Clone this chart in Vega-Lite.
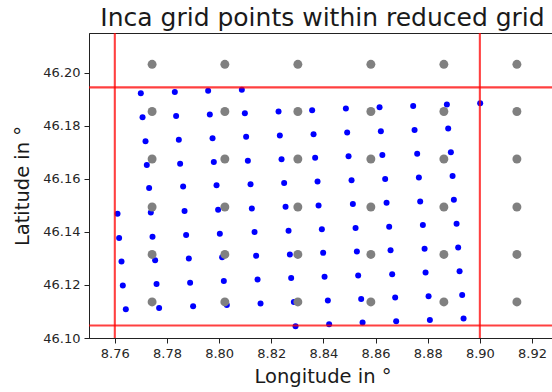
{
  "$schema": "https://vega.github.io/schema/vega-lite/v6.json",
  "autosize": {"type": "none"},
  "padding": {"left": 89, "top": 33, "right": 0, "bottom": 54},
  "width": 467,
  "height": 305,
  "background": "white",
  "config": {
    "view": {"stroke": "#222", "strokeWidth": 1},
    "font": "DejaVu Sans",
    "axis": {
      "grid": false,
      "domainColor": "#222",
      "domainWidth": 1,
      "tickColor": "#222",
      "tickSize": 5,
      "tickWidth": 1,
      "labelFont": "DejaVu Sans",
      "labelFontSize": 13,
      "labelColor": "#262626",
      "titleFont": "DejaVu Sans",
      "titleFontSize": 19.5,
      "titleFontWeight": "normal",
      "titleColor": "#1a1a1a"
    }
  },
  "title": {
    "text": "Inca grid points within reduced grid",
    "font": "DejaVu Sans",
    "fontSize": 25,
    "fontWeight": "normal",
    "color": "#1a1a1a",
    "anchor": "middle",
    "baseline": "bottom",
    "offset": 1,
    "dy": 25
  },
  "datasets": {
    "inca": [
      {"lon": 8.76997, "lat": 46.19224}, {"lon": 8.78301, "lat": 46.19272}, {"lon": 8.79579, "lat": 46.19325}, {"lon": 8.80871, "lat": 46.19362},
      {"lon": 8.77063, "lat": 46.18323}, {"lon": 8.78351, "lat": 46.18372}, {"lon": 8.79644, "lat": 46.18425}, {"lon": 8.80987, "lat": 46.18473}, {"lon": 8.82279, "lat": 46.18537}, {"lon": 8.83568, "lat": 46.18586}, {"lon": 8.84861, "lat": 46.1865}, {"lon": 8.86153, "lat": 46.18698}, {"lon": 8.87442, "lat": 46.18747}, {"lon": 8.88735, "lat": 46.188}, {"lon": 8.90012, "lat": 46.18848},
      {"lon": 8.77178, "lat": 46.17423}, {"lon": 8.78455, "lat": 46.17472}, {"lon": 8.79748, "lat": 46.17536}, {"lon": 8.81036, "lat": 46.17584}, {"lon": 8.82329, "lat": 46.17637}, {"lon": 8.83622, "lat": 46.17686}, {"lon": 8.84911, "lat": 46.17749}, {"lon": 8.86203, "lat": 46.17798}, {"lon": 8.87496, "lat": 46.17847}, {"lon": 8.88785, "lat": 46.179},
      {"lon": 8.77227, "lat": 46.16523}, {"lon": 8.78505, "lat": 46.16572}, {"lon": 8.79797, "lat": 46.16635}, {"lon": 8.81102, "lat": 46.16684}, {"lon": 8.82394, "lat": 46.16737}, {"lon": 8.83683, "lat": 46.16797}, {"lon": 8.84964, "lat": 46.16849}, {"lon": 8.86261, "lat": 46.16898}, {"lon": 8.87596, "lat": 46.16947}, {"lon": 8.88888, "lat": 46.16999},
      {"lon": 8.77316, "lat": 46.1566}, {"lon": 8.7862, "lat": 46.15709}, {"lon": 8.79901, "lat": 46.15761}, {"lon": 8.81205, "lat": 46.15799}, {"lon": 8.82494, "lat": 46.15848}, {"lon": 8.83775, "lat": 46.15897}, {"lon": 8.85079, "lat": 46.15949}, {"lon": 8.86368, "lat": 46.15998}, {"lon": 8.87661, "lat": 46.16047}, {"lon": 8.88954, "lat": 46.1611},
      {"lon": 8.76104, "lat": 46.14685}, {"lon": 8.77381, "lat": 46.14734}, {"lon": 8.78674, "lat": 46.14786}, {"lon": 8.79962, "lat": 46.14835}, {"lon": 8.81255, "lat": 46.14884}, {"lon": 8.82548, "lat": 46.14948}, {"lon": 8.83814, "lat": 46.14996}, {"lon": 8.85129, "lat": 46.15049}, {"lon": 8.86422, "lat": 46.15098}, {"lon": 8.87711, "lat": 46.15146}, {"lon": 8.89003, "lat": 46.1521},
      {"lon": 8.76165, "lat": 46.13774}, {"lon": 8.77446, "lat": 46.13822}, {"lon": 8.78735, "lat": 46.13886}, {"lon": 8.80028, "lat": 46.13935}, {"lon": 8.81359, "lat": 46.13999}, {"lon": 8.82663, "lat": 46.14047}, {"lon": 8.8394, "lat": 46.14096}, {"lon": 8.85233, "lat": 46.14149}, {"lon": 8.86522, "lat": 46.14197}, {"lon": 8.87814, "lat": 46.14261}, {"lon": 8.89107, "lat": 46.1431},
      {"lon": 8.76257, "lat": 46.12885}, {"lon": 8.77546, "lat": 46.12933}, {"lon": 8.78839, "lat": 46.12997}, {"lon": 8.80116, "lat": 46.13046}, {"lon": 8.8142, "lat": 46.13098}, {"lon": 8.82713, "lat": 46.13147}, {"lon": 8.8399, "lat": 46.13211}, {"lon": 8.85283, "lat": 46.1326}, {"lon": 8.86575, "lat": 46.13308}, {"lon": 8.8788, "lat": 46.13361}, {"lon": 8.89168, "lat": 46.1341},
      {"lon": 8.76307, "lat": 46.11984}, {"lon": 8.776, "lat": 46.12033}, {"lon": 8.78888, "lat": 46.12086}, {"lon": 8.80181, "lat": 46.12146}, {"lon": 8.81474, "lat": 46.12209}, {"lon": 8.82763, "lat": 46.12258}, {"lon": 8.84044, "lat": 46.12311}, {"lon": 8.85333, "lat": 46.12359}, {"lon": 8.86637, "lat": 46.12408}, {"lon": 8.87918, "lat": 46.12472}, {"lon": 8.89222, "lat": 46.12521},
      {"lon": 8.76422, "lat": 46.11084}, {"lon": 8.77699, "lat": 46.11133}, {"lon": 8.79003, "lat": 46.11197}, {"lon": 8.80296, "lat": 46.11245}, {"lon": 8.81589, "lat": 46.11298}, {"lon": 8.82866, "lat": 46.11358}, {"lon": 8.8417, "lat": 46.1141}, {"lon": 8.85448, "lat": 46.1147}, {"lon": 8.86752, "lat": 46.11523}, {"lon": 8.88033, "lat": 46.11572}, {"lon": 8.89322, "lat": 46.1162},
      {"lon": 8.82931, "lat": 46.10446}, {"lon": 8.8422, "lat": 46.10522}, {"lon": 8.85501, "lat": 46.10585}, {"lon": 8.8679, "lat": 46.10634}, {"lon": 8.88083, "lat": 46.10683}, {"lon": 8.89375, "lat": 46.10735}
    ],
    "reduced": [
      {"lon": 8.7743, "lat": 46.2032}, {"lon": 8.8022, "lat": 46.2032}, {"lon": 8.8302, "lat": 46.2032}, {"lon": 8.8582, "lat": 46.2032}, {"lon": 8.8862, "lat": 46.2032}, {"lon": 8.9142, "lat": 46.2032},
      {"lon": 8.7743, "lat": 46.1854}, {"lon": 8.8022, "lat": 46.1854}, {"lon": 8.8302, "lat": 46.1854}, {"lon": 8.8582, "lat": 46.1854}, {"lon": 8.8862, "lat": 46.1854}, {"lon": 8.9142, "lat": 46.1854},
      {"lon": 8.7743, "lat": 46.1675}, {"lon": 8.8022, "lat": 46.1675}, {"lon": 8.8302, "lat": 46.1675}, {"lon": 8.8582, "lat": 46.1675}, {"lon": 8.8862, "lat": 46.1675}, {"lon": 8.9142, "lat": 46.1675},
      {"lon": 8.7743, "lat": 46.1494}, {"lon": 8.8022, "lat": 46.1494}, {"lon": 8.8302, "lat": 46.1494}, {"lon": 8.8582, "lat": 46.1494}, {"lon": 8.8862, "lat": 46.1494}, {"lon": 8.9142, "lat": 46.1494},
      {"lon": 8.7743, "lat": 46.1315}, {"lon": 8.8022, "lat": 46.1315}, {"lon": 8.8302, "lat": 46.1315}, {"lon": 8.8582, "lat": 46.1315}, {"lon": 8.8862, "lat": 46.1315}, {"lon": 8.9142, "lat": 46.1315},
      {"lon": 8.7743, "lat": 46.1136}, {"lon": 8.8022, "lat": 46.1136}, {"lon": 8.8302, "lat": 46.1136}, {"lon": 8.8582, "lat": 46.1136}, {"lon": 8.8862, "lat": 46.1136}, {"lon": 8.9142, "lat": 46.1136}
    ],
    "vlines": [{"lon": 8.76}, {"lon": 8.90}],
    "hlines": [{"lat": 46.1945}, {"lat": 46.1047}]
  },
  "encoding": {
    "x": {
      "type": "quantitative",
      "scale": {"domain": [8.7501, 8.9292], "nice": false, "zero": false},
      "axis": {
        "title": "Longitude in °",
        "values": [8.76, 8.78, 8.80, 8.82, 8.84, 8.86, 8.88, 8.90, 8.92],
        "format": ".2f",
        "labelPadding": 4,
        "titlePadding": 7
      }
    },
    "y": {
      "type": "quantitative",
      "scale": {"domain": [46.1, 46.215], "nice": false, "zero": false},
      "axis": {
        "title": "Latitude in °",
        "values": [46.10, 46.12, 46.14, 46.16, 46.18, 46.20],
        "format": ".2f",
        "labelPadding": 4,
        "titlePadding": 10
      }
    }
  },
  "layer": [
    {
      "data": {"name": "inca"},
      "mark": {"type": "point", "filled": true, "shape": "circle", "size": 36, "color": "#0000ff", "opacity": 1},
      "encoding": {"x": {"field": "lon", "type": "quantitative"}, "y": {"field": "lat", "type": "quantitative"}}
    },
    {
      "data": {"name": "reduced"},
      "mark": {"type": "point", "filled": true, "shape": "circle", "size": 80, "color": "#808080", "opacity": 1},
      "encoding": {"x": {"field": "lon", "type": "quantitative"}, "y": {"field": "lat", "type": "quantitative"}}
    },
    {
      "data": {"name": "vlines"},
      "mark": {"type": "rule", "color": "#ff0000", "strokeWidth": 2.1, "opacity": 0.75},
      "encoding": {"x": {"field": "lon", "type": "quantitative"}}
    },
    {
      "data": {"name": "hlines"},
      "mark": {"type": "rule", "color": "#ff0000", "strokeWidth": 2.1, "opacity": 0.75},
      "encoding": {"y": {"field": "lat", "type": "quantitative"}}
    }
  ]
}
